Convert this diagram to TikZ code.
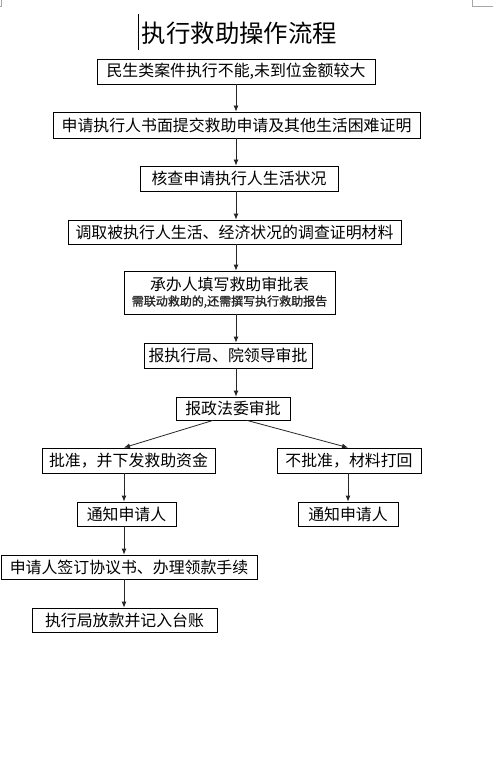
\documentclass[tikz,border=0pt]{standalone}
\usepackage{fontspec}
\setmainfont{Noto Sans CJK SC}
\newfontfamily\cjkfont{Noto Sans CJK SC}
\newfontfamily\cjkbold[FakeBold=1.2]{Noto Sans CJK SC}
\usetikzlibrary{arrows.meta}
\tikzset{
  box/.style={draw=black, line width=0.8pt, inner sep=0pt, font=\cjkfont\fontsize{15.9}{18}\selectfont, text=black},
  arr/.style={draw=black!85, line width=0.8pt, -{Latex[length=6pt,width=5pt]}},
  cornermark/.style={draw=black!35, line width=0.6pt}
}
\begin{document}
\begin{tikzpicture}[x=1pt,y=-1pt]
\useasboundingbox (0,0) rectangle (493,762);
\fill[white] (0,0) rectangle (493,762);
% page corner marks
\draw[cornermark] (1,0) -- (1,6) -- (0,6);
\draw[cornermark] (472,0) -- (472,6) -- (493,6);
% title and cursor
\node (title) at (239.5,33) {\cjkfont\fontsize{24.4}{27}\selectfont 执行救助操作流程};
\draw[black, line width=1.4pt] (138.5,14) -- (138.5,50);
% axes for arrows
\coordinate (ax) at (236,0);
\coordinate (cl) at (124,0);
\coordinate (cr) at (348,0);
% boxes
\node[box, minimum width=278pt, minimum height=25pt] (b1) at (236,71.5) {民生类案件执行不能,未到位金额较大};
\node[box, minimum width=367pt, minimum height=26pt] (b2) at (236.5,125) {申请执行人书面提交救助申请及其他生活困难证明};
\node[box, minimum width=198pt, minimum height=25pt] (b3) at (239,178.5) {核查申请执行人生活状况};
\node[box, minimum width=333pt, minimum height=24pt] (b4) at (234.5,232) {调取被执行人生活、经济状况的调查证明材料};
\node[box, minimum width=211pt, minimum height=43pt, align=center] (b5) at (229.5,292.5) {承办人填写救助审批表\\[-3pt]{\cjkbold\fontsize{12}{13}\selectfont\color{black!85}需联动救助的,还需撰写执行救助报告}};
\node[box, minimum width=168pt, minimum height=25pt] (b6) at (228,355.5) {报执行局、院领导审批};
\node[box, minimum width=114pt, minimum height=23pt] (b7) at (233,408.5) {报政法委审批};
\node[box, minimum width=173pt, minimum height=25pt] (b8) at (128.5,460.5) {批准，并下发救助资金};
\node[box, minimum width=144pt, minimum height=25pt] (b9) at (349,460.5) {不批准，材料打回};
\node[box, minimum width=99pt, minimum height=24pt] (b10) at (126.5,514) {通知申请人};
\node[box, minimum width=100pt, minimum height=24pt] (b11) at (348,514) {通知申请人};
\node[box, minimum width=256pt, minimum height=24pt] (b12) at (129,567) {申请人签订协议书、办理领款手续};
\node[box, minimum width=185pt, minimum height=24pt] (b13) at (124.5,620) {执行局放款并记入台账};
% connectors
\draw[arr] (b1.south -| ax) -- (b2.north -| ax);
\draw[arr] (b2.south -| ax) -- (b3.north -| ax);
\draw[arr] (b3.south -| ax) -- (b4.north -| ax);
\draw[arr] (b4.south -| ax) -- (b5.north -| ax);
\draw[arr] (b5.south -| ax) -- (b6.north -| ax);
\draw[arr] (b6.south -| ax) -- (b7.north -| ax);
\draw[arr] ([xshift=-20pt]b7.south) -- (b8.north -| cl);
\draw[arr] ([xshift=14pt]b7.south) -- (b9.north -| cr);
\draw[arr] (b8.south -| cl) -- (b10.north -| cl);
\draw[arr] (b9.south -| cr) -- (b11.north -| cr);
\draw[arr] (b10.south -| cl) -- (b12.north -| cl);
\draw[arr] (b12.south -| cl) -- (b13.north -| cl);
\end{tikzpicture}
\end{document}
